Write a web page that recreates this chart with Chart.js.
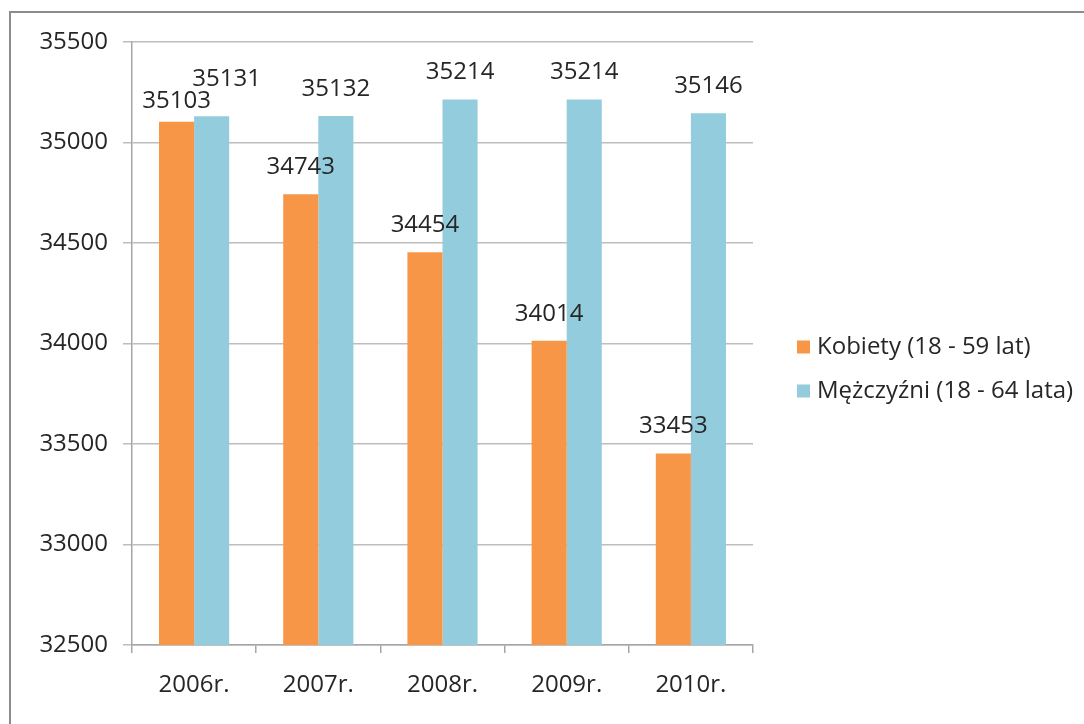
<!DOCTYPE html>
<html>
<head>
<meta charset="utf-8">
<script src="https://cdn.jsdelivr.net/npm/chart.js@4/dist/chart.umd.min.js"></script>
<style>
  html, body { margin: 0; padding: 0; background: #fff; }
  #wrap { position: relative; width: 1084px; height: 724px; overflow: hidden; }
  #frame { position: absolute; left: 9px; top: 11px; width: 1200px; height: 800px;
           border-left: 2px solid #8c8c8c; border-top: 2px solid #8c8c8c; box-sizing: border-box; }
  canvas { position: absolute; left: 0; top: 0; }
</style>
</head>
<body>
<div id="wrap">
  <div id="frame"></div>
  <canvas id="c" width="1084" height="724"></canvas>
</div>
<script>
const categories = ['2006r.', '2007r.', '2008r.', '2009r.', '2010r.'];
const seriesNames = ['Kobiety (18 - 59 lat)', 'Mężczyźni (18 - 64 lata)'];
const kobiety = [35103, 34743, 34454, 34014, 33453];
const mezczyzni = [35131, 35132, 35214, 35214, 35146];
const yMin = 32500, yMax = 35500, yStep = 500;

const FONT = '"Open Sans", "Liberation Sans", sans-serif';
const TEXT = '#262626';

const valueLabels = {
  id: 'valueLabels',
  afterDatasetsDraw(chart, args, opts) {
    const ctx = chart.ctx;
    ctx.save();
    ctx.font = '24px ' + FONT;
    ctx.fillStyle = TEXT;
    ctx.textAlign = 'center';
    ctx.textBaseline = 'middle';
    chart.data.datasets.forEach((ds, di) => {
      const meta = chart.getDatasetMeta(di);
      meta.data.forEach((el, i) => {
        const adj = (opts.adjust[di] && opts.adjust[di][i]) || [0, 0];
        ctx.fillText(String(ds.data[i]), el.x + adj[0], el.y - opts.offset + adj[1]);
      });
    });
    ctx.restore();
  }
};

const sideLegend = {
  id: 'sideLegend',
  afterDraw(chart, args, opts) {
    const ctx = chart.ctx;
    ctx.save();
    ctx.font = '24px ' + FONT;
    ctx.textBaseline = 'middle';
    ctx.textAlign = 'left';
    chart.data.datasets.forEach((ds, i) => {
      const y = opts.y + i * opts.gap;
      ctx.fillStyle = ds.backgroundColor;
      ctx.fillRect(opts.x, y - opts.box / 2, opts.box, opts.box);
      ctx.fillStyle = TEXT;
      ctx.fillText(ds.label, opts.x + opts.box + 7, y);
    });
    ctx.restore();
  }
};

new Chart(document.getElementById('c'), {
  type: 'bar',
  data: {
    labels: categories,
    datasets: [
      { label: seriesNames[0], data: kobiety, backgroundColor: '#F79646' },
      { label: seriesNames[1], data: mezczyzni, backgroundColor: '#93CDDD' }
    ]
  },
  options: {
    responsive: false,
    animation: false,
    layout: { padding: { left: 0, right: 331, top: 42, bottom: 0 } },
    datasets: { bar: { categoryPercentage: 0.565, barPercentage: 1.0 } },
    plugins: {
      legend: { display: false },
      tooltip: { enabled: false },
      valueLabels: { offset: 27, adjust: { 0: { 0: [0, 6] }, 1: { 0: [15, -10] } } },
      sideLegend: { x: 797, y: 347, gap: 44, box: 13 }
    },
    scales: {
      x: {
        grid: { offset: true, drawOnChartArea: false, drawTicks: true, tickLength: 8, color: '#a6a6a6', lineWidth: 1.5 },
        border: { display: true, color: '#a6a6a6', width: 1.5 },
        ticks: { color: TEXT, font: { family: FONT, size: 24 }, padding: 18 },
        afterFit(scale) { scale.height = 79; }
      },
      y: {
        min: yMin, max: yMax,
        grid: { color: '#bdbdbd', lineWidth: 1.5, tickLength: 9 },
        border: { display: true, color: '#a6a6a6', width: 1.5 },
        ticks: { stepSize: yStep, color: TEXT, font: { family: FONT, size: 24 }, padding: 15,
                 callback: (v) => String(v) },
        afterFit(scale) { scale.width = 132; }
      }
    }
  },
  plugins: [valueLabels, sideLegend]
});
</script>
</body>
</html>
